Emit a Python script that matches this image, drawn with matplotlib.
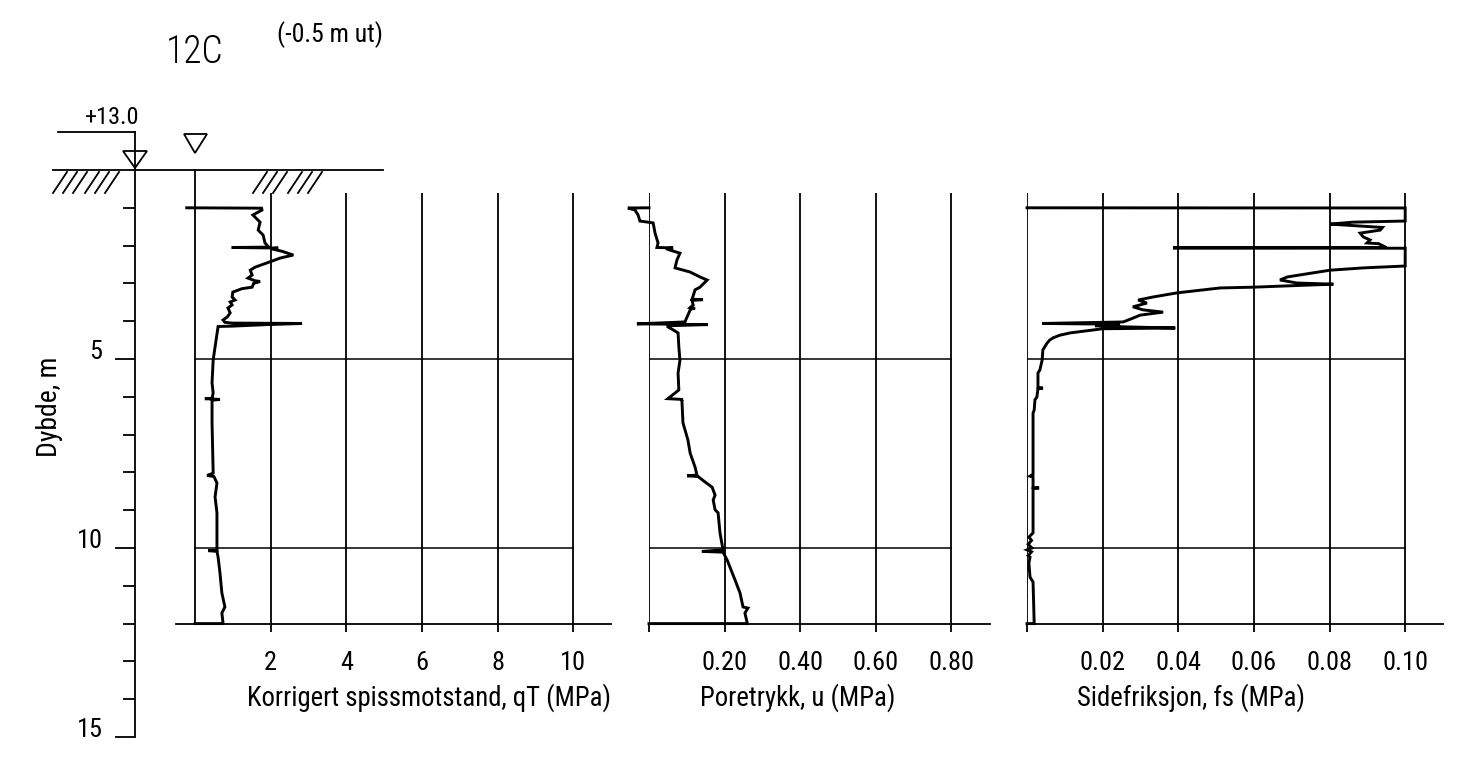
import numpy as np
import matplotlib
matplotlib.use('Agg')
import matplotlib.pyplot as plt
from matplotlib import font_manager
from matplotlib.patches import Polygon

# narrow sans is closest to the CAD lettering of the original
names = {f.name for f in font_manager.fontManager.ttflist}
font, scale = 'DejaVu Sans', 0.74
for cand in ['Liberation Sans Narrow', 'Roboto Condensed', 'Noto Sans Condensed', 'Open Sans Condensed']:
    if cand in names:
        font, scale = cand, 1.0
        break
plt.rcParams['font.family'] = [font, 'DejaVu Sans']

# ---- data (depth in m, values in MPa) ----
qt_profile = [
    (1.00, -0.22), (1.01, 1.76), (1.06, 1.77), (1.19, 1.53), (1.38, 1.72), (1.59, 1.67), (1.72, 1.80), (1.93, 1.85),
    (2.04, 1.95), (2.05, 0.97), (2.065, 2.20), (2.08, 2.00), (2.15, 2.30), (2.25, 2.60), (2.33, 2.25), (2.43, 1.98),
    (2.57, 1.59), (2.65, 1.46), (2.78, 1.51), (2.86, 1.40), (2.93, 1.59), (2.95, 1.72), (3.00, 1.55), (3.10, 1.51),
    (3.14, 1.24), (3.23, 1.00), (3.36, 0.98), (3.44, 1.06), (3.49, 0.93), (3.57, 0.98), (3.65, 0.87), (3.78, 0.93),
    (3.89, 0.85), (3.97, 0.74), (4.03, 0.79), (4.05, 0.98), (4.06, 2.83), (4.09, 1.90), (4.13, 1.00), (4.14, 0.61),
    (4.68, 0.53), (5.03, 0.48), (5.63, 0.45), (5.90, 0.48), (6.04, 0.45), (6.05, 0.26), (6.07, 0.66), (6.09, 0.45),
    (6.69, 0.45), (8.02, 0.48), (8.08, 0.32), (8.11, 0.50), (8.28, 0.58), (8.65, 0.53), (9.07, 0.58), (9.79, 0.58),
    (10.06, 0.58), (10.07, 0.35), (10.09, 0.58), (10.24, 0.61), (10.66, 0.66), (11.19, 0.71), (11.56, 0.79), (11.72, 0.71),
    (11.98, 0.74), (12.0, 0.74), (12.0, 0.0)]

u_profile = [
    (1.00, 0.0), (1.005, -0.056), (1.06, -0.037), (1.19, -0.029), (1.35, -0.024), (1.38, -0.003), (1.40, 0.011), (1.67, 0.016),
    (1.93, 0.024), (2.05, 0.021), (2.06, 0.064), (2.08, 0.045), (2.12, 0.056), (2.20, 0.082), (2.38, 0.074), (2.59, 0.069),
    (2.70, 0.109), (2.83, 0.135), (2.91, 0.154), (3.10, 0.135), (3.17, 0.122), (3.42, 0.114), (3.43, 0.143), (3.45, 0.114),
    (3.57, 0.117), (3.64, 0.109), (3.66, 0.122), (3.68, 0.110), (3.84, 0.103), (4.02, 0.095), (4.07, -0.032), (4.09, 0.156),
    (4.12, 0.050), (4.15, 0.050), (4.23, 0.064), (4.31, 0.077), (4.68, 0.079), (5.03, 0.082), (5.37, 0.077), (5.82, 0.079),
    (6.05, 0.050), (6.07, 0.090), (6.08, 0.087), (6.69, 0.090), (7.14, 0.103), (7.49, 0.109), (7.86, 0.122), (8.07, 0.127),
    (8.09, 0.101), (8.11, 0.130), (8.25, 0.148), (8.39, 0.167), (8.60, 0.175), (8.73, 0.170), (8.99, 0.175), (9.07, 0.183),
    (9.60, 0.188), (10.05, 0.196), (10.09, 0.140), (10.11, 0.196), (10.32, 0.207), (10.85, 0.228), (11.19, 0.241), (11.56, 0.249),
    (11.59, 0.262), (11.72, 0.254), (11.98, 0.260), (12.0, 0.260), (12.0, 0.0)]

fs_profile = [
    (1.00, 0.0), (1.005, 0.100), (1.35, 0.100), (1.38, 0.0862), (1.43, 0.0802), (1.45, 0.0830), (1.52, 0.0940), (1.59, 0.0934),
    (1.67, 0.0881), (1.77, 0.0889), (1.85, 0.0907), (1.93, 0.0899), (1.95, 0.0930), (2.05, 0.0950), (2.06, 0.0386), (2.07, 0.100),
    (2.54, 0.100), (2.59, 0.0889), (2.65, 0.0802), (2.72, 0.0757), (2.83, 0.0688), (2.91, 0.0669), (2.99, 0.0714), (3.02, 0.0810),
    (3.10, 0.0598), (3.12, 0.0511), (3.25, 0.0397), (3.36, 0.0333), (3.44, 0.0294), (3.52, 0.0317), (3.62, 0.0280), (3.70, 0.0307),
    (3.76, 0.0360), (3.84, 0.0299), (3.92, 0.0280), (4.02, 0.0254), (4.06, 0.0040), (4.08, 0.0246), (4.12, 0.0180), (4.15, 0.0260),
    (4.18, 0.0392), (4.20, 0.0200), (4.31, 0.0114), (4.37, 0.0087), (4.44, 0.0069), (4.50, 0.0060), (4.58, 0.0053), (4.76, 0.0042),
    (5.03, 0.0040), (5.29, 0.0034), (5.37, 0.0029), (5.75, 0.0029), (5.77, 0.0042), (5.79, 0.0029), (6.01, 0.0026), (6.08, 0.0021),
    (6.35, 0.0019), (6.43, 0.0016), (8.05, 0.0016), (8.10, 0.0008), (8.12, 0.0016), (8.40, 0.0016), (8.41, 0.0032), (8.43, 0.0016),
    (9.60, 0.0016), (9.71, 0.0005), (9.80, 0.0012), (9.90, 0.0003), (10.00, 0.0013), (10.05, 0.0), (10.10, 0.0012), (10.20, 0.0003),
    (10.24, 0.0008), (10.40, 0.0005), (10.77, 0.0008), (10.90, 0.0016), (11.98, 0.0019), (12.0, 0.0019), (12.0, 0.0)]

qt_ticks = [2, 4, 6, 8, 10]
qt_labels = ['2', '4', '6', '8', '10']
u_ticks = [0, 0.2, 0.4, 0.6, 0.8]
u_labels = ['', '0.20', '0.40', '0.60', '0.80']
fs_ticks = [0, 0.02, 0.04, 0.06, 0.08, 0.10]
fs_labels = ['', '0.02', '0.04', '0.06', '0.08', '0.10']
depth_major = [5, 10, 15]
depth_minor = [1, 2, 3, 4, 6, 7, 8, 9, 11, 12, 13, 14]
grid_depths = [5, 10]

# ---- layout helpers (pixels of the 1459x763 image) ----
W, H = 1459, 763
fig = plt.figure(figsize=(W / 100, H / 100), dpi=100)

def box(x0, y0, x1, y1):
    return [x0 / W, 1 - y1 / H, (x1 - x0) / W, (y1 - y0) / H]

Y0, PPM = 170.0, 37.8   # ground row, pixels per metre
def ypix(d):
    return Y0 + d * PPM

top, bot = 0.6, 12.0
LW = 1.3


def panel(x0, x1, xlim, ticks, labels, profile, gridmax):
    ax = fig.add_axes(box(x0, ypix(top), x1, ypix(bot)))
    ax.set_xlim(xlim)
    ax.set_ylim(bot, top)
    ax.patch.set_alpha(0)
    for s in ['top', 'right', 'left']:
        ax.spines[s].set_visible(False)
    ax.spines['bottom'].set_linewidth(LW)
    ax.set_yticks([])
    ax.set_xticks(ticks)
    ax.set_xticklabels(labels)
    ax.tick_params(axis='x', direction='out', length=6, width=LW, pad=14, labelsize=19 * scale)
    for t in ticks:
        ax.axvline(t, color='k', lw=LW)
    for d in grid_depths:
        ax.plot([0, gridmax], [d, d], color='k', lw=1.1)
    p = np.array(profile)
    ax.plot(p[:, 1], p[:, 0], color='k', lw=2.1, solid_joinstyle='miter', clip_on=False)
    return ax


ax1 = panel(176, 611, (-0.503, 11.0), qt_ticks, qt_labels, qt_profile, 10)
ax1.plot([0, 0], [0, bot], color='k', lw=LW, clip_on=False)
ax2 = panel(649, 990, (0, 0.903), u_ticks, u_labels, u_profile, 0.8)
ax3 = panel(1027, 1443, (0, 0.110), fs_ticks, fs_labels, fs_profile, 0.1)

lab = dict(fontsize=19.3 * scale, ha='left', va='center')
fig.text(247 / W, 1 - 698 / H, 'Korrigert spissmotstand, qT (MPa)', **lab)
fig.text(700 / W, 1 - 698 / H, 'Poretrykk, u (MPa)', **lab)
fig.text(1077 / W, 1 - 698 / H, 'Sidefriksjon, fs (MPa)', **lab)

# depth axis
axd = fig.add_axes(box(135, ypix(-1.005), 137, ypix(15)))
axd.set_ylim(15, -1.005)
axd.set_xlim(0, 1)
axd.patch.set_alpha(0)
for s in ['top', 'right', 'bottom']:
    axd.spines[s].set_visible(False)
axd.spines['left'].set_linewidth(LW)
axd.set_xticks([])
axd.set_yticks(depth_major)
axd.set_yticks(depth_minor, minor=True)
axd.tick_params(axis='y', which='major', length=14.4, width=LW, pad=9, labelsize=19 * scale)
axd.tick_params(axis='y', which='minor', length=8.6, width=LW)
for t in axd.get_yticklabels():
    t.set_va('baseline')
fig.text(50 / W, 1 - 407 / H, 'Dybde, m', rotation=90, ha='center', va='center', fontsize=20 * scale)

# schematic symbols on top (pixel overlay)
axo = fig.add_axes([0, 0, 1, 1])
axo.set_xlim(0, W)
axo.set_ylim(H, 0)
axo.axis('off')
axo.patch.set_alpha(0)
g = ypix(0)
axo.plot([53, 383], [g, g], color='k', lw=LW)
axo.plot([58, 135], [132, 132], color='k', lw=LW)
axo.add_patch(Polygon([(123, 151), (147, 151), (135, 168)], closed=True, fill=False, ec='k', lw=LW))
axo.add_patch(Polygon([(184, 134), (207, 134), (195, 153)], closed=True, fill=False, ec='k', lw=LW))
for xb in [53, 63, 73, 85, 95, 105, 253, 263, 273, 288, 298, 308]:
    axo.plot([xb, xb + 14], [g + 23, g + 2], color='k', lw=LW)
axo.text(112, 117, '+13.0', ha='center', va='center', fontsize=17.5 * scale)
axo.text(195, 52, '12C', ha='center', va='center', fontsize=27 * scale, fontweight='light')
axo.text(330, 35, '(-0.5 m ut)', ha='center', va='center', fontsize=18.5 * scale)

fig.savefig('out.png', dpi=100)
